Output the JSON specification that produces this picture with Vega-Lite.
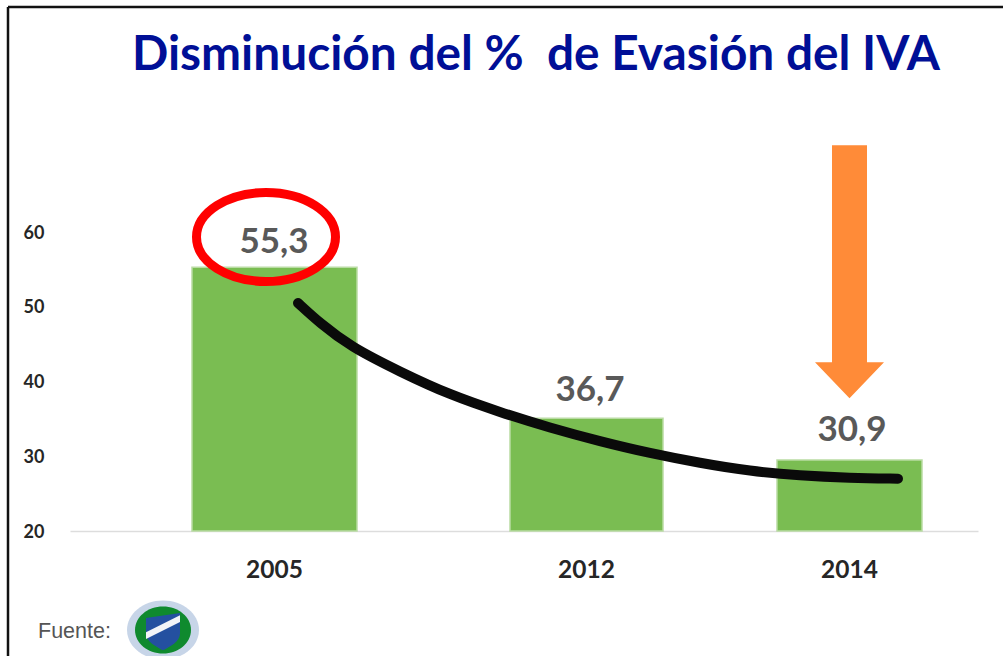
{
"$schema":"https://vega.github.io/schema/vega-lite/v6.json",
"width":908,"height":531,
"autosize":{"type":"none"},
"padding":{"left":70,"top":0,"right":25,"bottom":125},
"background":"white",
"view":{"stroke":null},
"title":{"text":"Disminución del %\u00a0 de Evasión del IVA","anchor":"start","frame":"group","dx":62,"dy":118,"offset":0,"baseline":"alphabetic","font":"Lato","fontWeight":"bold","fontSize":47.8,"color":"#000F96"},
"encoding":{
"x":{"type":"quantitative","scale":{"domain":[70,978],"nice":false,"zero":false}},
"y":{"type":"quantitative","scale":{"domain":[20,91.04],"nice":false,"zero":false}}
},
"layer":[
{"data":{"values":[
{"year":"2005","from":192,"to":357,"drawn":55.3},
{"year":"2012","from":510,"to":663,"drawn":35.1},
{"year":"2014","from":777,"to":922,"drawn":29.5}]},
"mark":{"type":"bar","color":"#7ABD52","stroke":"#B9DBA3","strokeWidth":1.5},
"encoding":{
"x":{"field":"from","type":"quantitative","scale":{"domain":[70,978],"nice":false,"zero":false},
"axis":{"title":null,"values":[274,586,849],"labelExpr":"datum.value==274?'2005':datum.value==586?'2012':'2014'","ticks":false,"domainColor":"#DDDDDD","domainWidth":1.5,"labelAngle":0,"labelFont":"Lato","labelFontWeight":"bold","labelFontSize":24.5,"labelColor":"#262626","labelPadding":27,"grid":false}},
"x2":{"field":"to"},
"y":{"field":"drawn","type":"quantitative","stack":null,"scale":{"domain":[20,91.04],"nice":false,"zero":false},
"axis":{"title":null,"values":[20,30,40,50,60],"grid":false,"domain":false,"ticks":false,"labelFont":"Lato","labelFontWeight":"bold","labelFontSize":18,"labelColor":"#262626","labelPadding":26,"labelOffset":1}},
"y2":{"datum":20}
}},
{"data":{"values":[{"label":"55,3","px":274,"at":57.2},{"label":"36,7","px":590,"at":37.4},{"label":"30,9","px":852,"at":32.0}]},
"mark":{"type":"text","font":"Lato","fontWeight":"bold","fontSize":35,"color":"#595959","baseline":"alphabetic"},
"encoding":{"x":{"field":"px","type":"quantitative"},"y":{"field":"at","type":"quantitative"},"text":{"field":"label"}}},
{"data":{"values":[{"px":298,"v":50.5},{"px":320,"v":47.8},{"px":350,"v":44.7},{"px":400,"v":41.3},{"px":450,"v":38.2},{"px":500,"v":35.9},{"px":550,"v":33.8},{"px":600,"v":32.0},{"px":650,"v":30.4},{"px":700,"v":29.1},{"px":750,"v":28.0},{"px":800,"v":27.4},{"px":850,"v":27.1},{"px":898,"v":27.0}]},
"mark":{"type":"line","color":"#0A0A0A","strokeWidth":10,"strokeCap":"round","interpolate":"basis"},
"encoding":{"x":{"field":"px","type":"quantitative"},"y":{"field":"v","type":"quantitative"}}},
{"data":{"values":[{"px":266,"v":59.33}]},
"mark":{"type":"point","shape":"M-1,0 A1,0.64 0 1,1 1,0 A1,0.64 0 1,1 -1,0 Z","size":19321,"filled":false,"color":"#FF0000","strokeWidth":9,"opacity":1},
"encoding":{"x":{"field":"px","type":"quantitative"},"y":{"field":"v","type":"quantitative"}}},
{"data":{"values":[{"px":849.5,"v":54.7}]},
"mark":{"type":"point","shape":"M-0.175,-1.265 L0.175,-1.265 L0.175,0.905 L0.345,0.905 L0,1.265 L-0.345,0.905 L-0.175,0.905 Z","size":40000,"filled":true,"color":"#FF8B38","opacity":1},
"encoding":{"x":{"field":"px","type":"quantitative"},"y":{"field":"v","type":"quantitative"}}},
{"data":{"values":[{"label":"Fuente:","px":38,"v":5.69}]},
"mark":{"type":"text","font":"Liberation Sans","fontSize":21.5,"color":"#555555","align":"left","baseline":"alphabetic"},
"encoding":{"x":{"field":"px","type":"quantitative"},"y":{"field":"v","type":"quantitative"},"text":{"field":"label"}}},
{"data":{"values":[{"px":163,"v":6.76}]},
"mark":{"type":"point","shape":"M-1,0 A1,0.82 0 1,1 1,0 A1,0.82 0 1,1 -1,0 Z","size":5184,"filled":true,"color":"#C7D5E8","opacity":1},
"encoding":{"x":{"field":"px","type":"quantitative"},"y":{"field":"v","type":"quantitative"}}},
{"data":{"values":[{"px":163,"v":6.76}]},
"mark":{"type":"point","shape":"M-1,0 A1,0.84 0 1,1 1,0 A1,0.84 0 1,1 -1,0 Z","size":3136,"filled":true,"color":"#0F8A2E","opacity":1},
"encoding":{"x":{"field":"px","type":"quantitative"},"y":{"field":"v","type":"quantitative"}}},
{"data":{"values":[{"px":163,"v":6.76}]},
"mark":{"type":"point","shape":"M-1,-0.7 L1,-1 L1,0.2 C1,0.7 0.4,1 0,1.2 C-0.4,1 -1,0.7 -1,0.2 Z","size":1156,"filled":true,"color":"#2450A0","opacity":1},
"encoding":{"x":{"field":"px","type":"quantitative"},"y":{"field":"v","type":"quantitative"}}},
{"data":{"values":[{"px":163,"v":6.9}]},
"mark":{"type":"point","shape":"M-1,0.2 L1,-0.8 L1,-0.4 L-1,0.6 Z","size":1156,"filled":true,"color":"#F2F4F8","opacity":1},
"encoding":{"x":{"field":"px","type":"quantitative"},"y":{"field":"v","type":"quantitative"}}},
{"data":{"values":[{"px":8,"top":90.1,"bottom":3.28}]},
"mark":{"type":"rule","color":"#111111","strokeWidth":2.5},
"encoding":{"x":{"field":"px","type":"quantitative"},"y":{"field":"top","type":"quantitative"},"y2":{"field":"bottom"}}},
{"data":{"values":[{"px":8,"px2":1003,"top":90.1}]},
"mark":{"type":"rule","color":"#111111","strokeWidth":2.5},
"encoding":{"x":{"field":"px","type":"quantitative"},"x2":{"field":"px2"},"y":{"field":"top","type":"quantitative"}}}
]
}
